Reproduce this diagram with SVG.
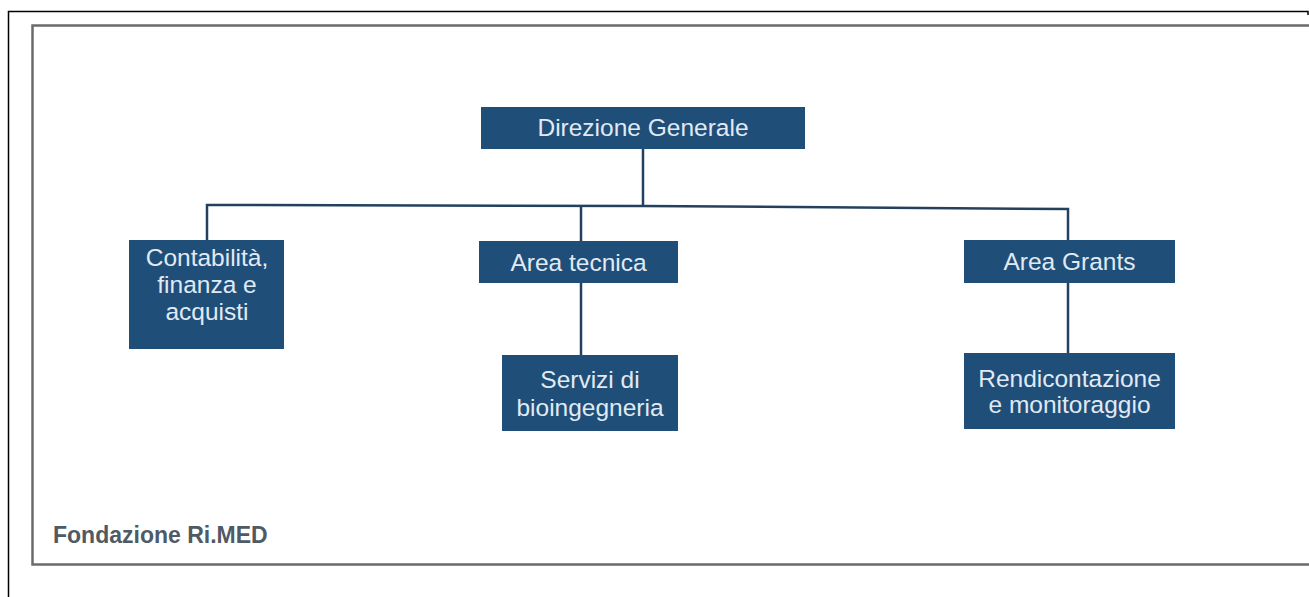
<svg xmlns="http://www.w3.org/2000/svg" width="1309" height="597" viewBox="0 0 1309 597">
<style>
.box{fill:#1f4e79;}
.t{font-family:"Liberation Sans",Arial,sans-serif;font-size:24.5px;fill:#e1eaf3;text-anchor:middle;}
.ln{stroke:#23405f;stroke-width:2.5;fill:none;}
</style>
<rect width="1309" height="597" fill="#ffffff"/>
<path d="M8.5,597 V11.5 H1308 V15" fill="none" stroke="#000" stroke-width="1.5"/>
<path d="M1309,25.5 H32.5 V564.5 H1309" fill="none" stroke="#6b6b6b" stroke-width="2.5"/>
<g id="connectors">
<line class="ln" x1="643" y1="149" x2="643" y2="206"/>
<polyline class="ln" points="207,240 207,205 643,206 1068,209 1068,240"/>
<line class="ln" x1="581" y1="206" x2="581" y2="241"/>
<line class="ln" x1="581" y1="283" x2="581" y2="355"/>
<line class="ln" x1="1068" y1="283" x2="1068" y2="353"/>
</g>
<g id="direzione">
<rect class="box" x="481" y="107" width="324" height="42"/>
<text class="t" x="643" y="136">Direzione Generale</text>
</g>
<g id="contabilita">
<rect class="box" x="129" y="240" width="155" height="109"/>
<text class="t" x="207" y="266">Contabilità,</text>
<text class="t" x="207" y="293">finanza e</text>
<text class="t" x="207" y="320">acquisti</text>
</g>
<g id="area-tecnica">
<rect class="box" x="479" y="241" width="199" height="42"/>
<text class="t" x="578.5" y="271">Area tecnica</text>
</g>
<g id="servizi">
<rect class="box" x="502" y="355" width="176" height="76"/>
<text class="t" x="590" y="388">Servizi di</text>
<text class="t" x="590" y="416">bioingegneria</text>
</g>
<g id="area-grants">
<rect class="box" x="964" y="240" width="211" height="43"/>
<text class="t" x="1069.5" y="270">Area Grants</text>
</g>
<g id="rendicontazione">
<rect class="box" x="964" y="353" width="211" height="76"/>
<text class="t" x="1069.5" y="387">Rendicontazione</text>
<text class="t" x="1069.5" y="413">e monitoraggio</text>
</g>
<text x="53" y="543" font-family="Liberation Sans,Arial,sans-serif" font-weight="bold" font-size="23" fill="#505a64">Fondazione Ri.MED</text>
</svg>
